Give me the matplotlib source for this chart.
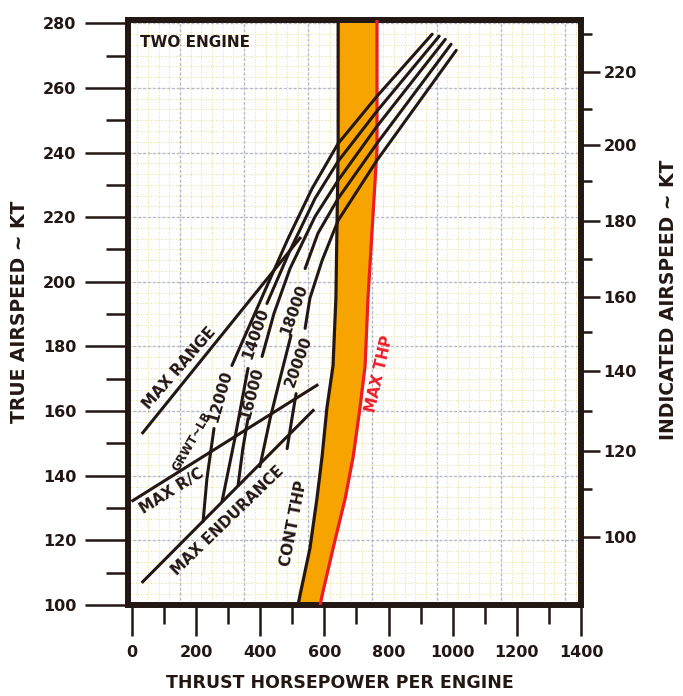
import numpy as np
import matplotlib.pyplot as plt

# --- values (thrust hp per engine, true airspeed kt) ---
# weight curves, GRWT ~ LB (low speed end first)
hp_12000 = [222, 234, 256, 312, 349, 418, 487, 562, 643, 764, 936]
kt_12000 = [125.8, 139.1, 154.6, 174.1, 182.5, 198.0, 213.4, 228.9, 242.8, 257.4, 276.6]
hp_14000 = [281, 321, 362, 421, 493, 571, 643, 764, 958]
kt_14000 = [132.0, 151.5, 173.2, 193.3, 209.7, 225.8, 237.3, 252.8, 276.0]
hp_16000 = [331, 346, 362, 406, 443, 493, 571, 643, 764, 977]
kt_16000 = [137.0, 148.4, 157.7, 176.9, 190.2, 204.1, 220.2, 231.4, 248.1, 275.0]
hp_18000 = [399, 431, 462, 496, 540, 580, 643, 764, 995]
kt_18000 = [142.8, 157.7, 170.1, 183.4, 204.1, 215.0, 225.8, 242.8, 273.5]
hp_20000 = [484, 499, 512, 540, 555, 593, 643, 764, 1011]
kt_20000 = [148.4, 157.7, 165.4, 185.6, 194.9, 206.6, 219.0, 237.6, 271.6]
weights = ["12000", "14000", "16000", "18000", "20000"]
gap_after = [3, 3, 3, 4, 3]   # curve is broken where its weight label sits

# operating lines
max_range_hp = [34, 524]
max_range_kt = [153.3, 213.5]
max_rc_hp = [3, 577]
max_rc_kt = [132.3, 168]
max_end_hp = [34, 565]
max_end_kt = [107.2, 160.2]

# power limits
thp_kt = [281, 241, 195, 174, 161, 146, 133, 117.5, 103, 100]
cont_thp = [643, 643, 636, 627, 608, 593, 577, 555, 524, 518]
max_thp = [764, 764, 736, 727, 711, 690, 665, 627, 593, 587]

# indicated airspeed scale (IAS -> TAS position)
ias_major = [100, 120, 140, 160, 180, 200, 220]
ias_major_tas = [120.9, 147.8, 172.3, 195.2, 218.7, 242.2, 264.8]
ias_minor_tas = [136.0, 159.9, 184.6, 206.9, 231.1, 253.4, 276.6]

ink = "#231714"
plt.rcParams["font.family"] = "DejaVu Sans"
plt.rcParams["font.weight"] = "bold"

fig = plt.figure(figsize=(6.83, 6.96), dpi=100)
ax = fig.add_axes([0.1874, 0.1307, 0.6633, 0.8406])
ax.set_xlim(-12, 1400)
ax.set_ylim(100, 281)

# graph paper
for v in np.arange(-50, 1400, 200 / 6):
    ax.axvline(v, color="#e3d67a", lw=0.6, ls=(0, (1, 2)), zorder=0)
for v in np.arange(100, 282, 20 / 6):
    ax.axhline(v, color="#e3d67a", lw=0.6, ls=(0, (1, 2)), zorder=0)
for v in np.arange(150, 1400, 200):
    ax.axvline(v, color="#b3b8d2", lw=1.0, ls=(0, (2, 1.5)), zorder=0)
for v in np.arange(100, 282, 20):
    ax.axhline(v, color="#b3b8d2", lw=1.0, ls=(0, (2, 1.5)), zorder=0)

# thp band
ax.fill_betweenx(thp_kt, cont_thp, max_thp, color="#f7a400", zorder=1)
ax.plot(cont_thp, thp_kt, color=ink, lw=2.3, zorder=3)
ax.plot(max_thp, thp_kt, color="#ec1c2a", lw=2.3, zorder=3)

# weight curves
curves = [(hp_12000, kt_12000), (hp_14000, kt_14000), (hp_16000, kt_16000),
          (hp_18000, kt_18000), (hp_20000, kt_20000)]
for (hp, kt), g in zip(curves, gap_after):
    ax.plot(hp[:g], kt[:g], color=ink, lw=2.2, zorder=4, solid_capstyle="round")
    ax.plot(hp[g:], kt[g:], color=ink, lw=2.2, zorder=4, solid_capstyle="round")

ax.plot(max_range_hp, max_range_kt, color=ink, lw=2.2, zorder=4)
ax.plot(max_rc_hp, max_rc_kt, color=ink, lw=2.2, zorder=4)
ax.plot(max_end_hp, max_end_kt, color=ink, lw=2.2, zorder=4)

# labels inside the chart
tkw = dict(color=ink, fontsize=11, fontweight="bold", ha="center", va="center", zorder=5)
ax.text(25, 274, "TWO ENGINE", **dict(tkw, ha="left"))
ax.text(147, 173.2, "MAX RANGE", rotation=49, **tkw)
ax.text(186, 150.5, "GRWT~LB", rotation=60, **dict(tkw, fontsize=8.5))
ax.text(277, 164.5, "12000", rotation=74, **tkw)
ax.text(387, 184.0, "14000", rotation=71, **tkw)
ax.text(374, 165.4, "16000", rotation=75, **tkw)
ax.text(505, 191.5, "18000", rotation=70, **tkw)
ax.text(521, 175.4, "20000", rotation=70, **tkw)
ax.text(125, 135.1, "MAX R/C", rotation=32, **tkw)
ax.text(300, 126.1, "MAX ENDURANCE", rotation=44, **tkw)
ax.text(505, 125.2, "CONT THP", rotation=79, **tkw)
ax.text(771, 171.6, "MAX THP", rotation=77, **dict(tkw, color="#ec1c2a"))

# frame and ticks
for s in ax.spines.values():
    s.set_linewidth(4.3)
    s.set_color(ink)
ax.set_xticks(range(0, 1401, 200))
ax.set_xticks(range(100, 1400, 200), minor=True)
ax.set_yticks(range(100, 281, 20))
ax.set_yticks(range(110, 281, 20), minor=True)
ax.tick_params(axis="x", which="major", length=22, width=1.8, color=ink, pad=7,
               labelsize=11.5, labelcolor=ink)
ax.tick_params(axis="x", which="minor", length=14, width=1.8, color=ink)
ax.tick_params(axis="y", which="major", length=31, width=1.8, color=ink, pad=6,
               labelsize=11.5, labelcolor=ink)
ax.tick_params(axis="y", which="minor", length=16, width=1.8, color=ink)

ax2 = ax.twinx()
ax2.set_ylim(ax.get_ylim())
ax2.set_yticks(ias_major_tas)
ax2.set_yticklabels([str(v) for v in ias_major])
ax2.set_yticks(ias_minor_tas, minor=True)
ax2.tick_params(axis="y", which="major", length=14, width=1.8, color=ink, pad=2,
                labelsize=11.5, labelcolor=ink)
ax2.tick_params(axis="y", which="minor", length=8, width=1.8, color=ink)
for s in ax2.spines.values():
    s.set_visible(False)

fig.text(340 / 683, 1 - 683 / 696, "THRUST HORSEPOWER PER ENGINE", ha="center", va="center",
         fontsize=12.5, fontweight="bold", color=ink)
fig.text(20 / 683, 1 - 312 / 696, "TRUE AIRSPEED ~ KT", ha="center", va="center",
         rotation=90, fontsize=13.5, fontweight="bold", color=ink)
fig.text(668 / 683, 1 - 300 / 696, "INDICATED AIRSPEED ~ KT", ha="center", va="center",
         rotation=90, fontsize=13.5, fontweight="bold", color=ink)

fig.savefig("out.png", dpi=100)
